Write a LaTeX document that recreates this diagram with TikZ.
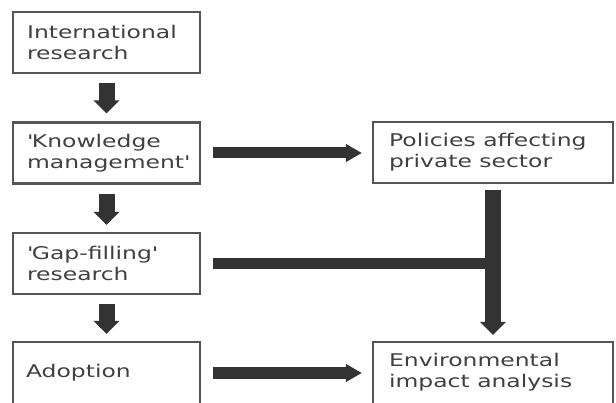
\documentclass[tikz,border=0pt]{standalone}
\usepackage{fontspec}
\setmainfont[FakeStretch=1.34]{DejaVu Sans}
\usetikzlibrary{arrows.meta}
\definecolor{boxline}{HTML}{555555}
\definecolor{arrowc}{HTML}{333333}
\definecolor{txtc}{HTML}{404040}
\begin{document}
\begin{tikzpicture}[x=1pt,y=-1pt,
  box/.style={draw=boxline, line width=2.2pt, fill=white, minimum width=187pt, minimum height=61pt, inner sep=0pt},
  widebox/.style={box, minimum width=240pt},
  tallbox/.style={minimum height=66pt},
  txt/.style={anchor=west, align=left, inner sep=0pt, text=txtc, font=\fontsize{17.5}{21}\selectfont},
  varrow/.style={draw=arrowc, line width=16pt, line cap=butt, -{Triangle[width=25pt 0 0, length=13pt 0 0]}},
  harrow/.style={draw=arrowc, line width=11pt, line cap=butt, -{Triangle[width=17pt 0 0, length=16pt 0 0]}},
  hbar/.style={draw=arrowc, line width=11pt, line cap=butt}
]
\useasboundingbox (0,0) rectangle (616,403);
\fill[white] (0,0) rectangle (616,403);

\node[box] (ir) at (106.5,42.5) {};
\node[box] (km) at (106.5,153) {};
\node[box] (gf) at (106.5,263.5) {};
\node[box,tallbox] (ad) at (106.5,375) {};
\node[widebox] (pol) at (493,152.5) {};
\node[widebox,tallbox] (env) at (493,375) {};

\node[txt] (irt) at ([xshift=15pt]ir.west) {International\\research};
\node[txt] (kmt) at ([xshift=15pt]km.west) {\textquotesingle Knowledge\\management\textquotesingle};
\node[txt] (gft) at ([xshift=15pt]gf.west) {\textquotesingle Gap-filling\textquotesingle\\research};
\node[txt] (adt) at ([xshift=14pt,yshift=2pt]ad.west) {Adoption};
\node[txt] (polt) at ([xshift=17pt]pol.west) {Policies affecting\\private sector};
\node[txt] (envt) at ([xshift=17pt,yshift=3pt]env.west) {Environmental\\impact analysis};

\draw[varrow] ([yshift=-9pt]ir.south) -- ([yshift=8pt]km.north);
\draw[varrow] ([yshift=-9pt]km.south) -- ([yshift=7pt]gf.north);
\draw[varrow] ([yshift=-9pt]gf.south) -- ([yshift=7pt]ad.north);

\draw[harrow] ([xshift=12pt]km.east) -- ([xshift=-10pt]pol.west |- km.east);
\draw[harrow] ([xshift=12pt,yshift=2pt]ad.east) -- ([xshift=-10pt,yshift=2pt]env.west |- ad.east);

\coordinate (junc) at (pol.south |- gf.east);
\draw[hbar] ([xshift=12pt]gf.east) -- (junc);
\draw[varrow] ([yshift=-6pt]pol.south) -- ([yshift=6pt]env.north);
\end{tikzpicture}
\end{document}
